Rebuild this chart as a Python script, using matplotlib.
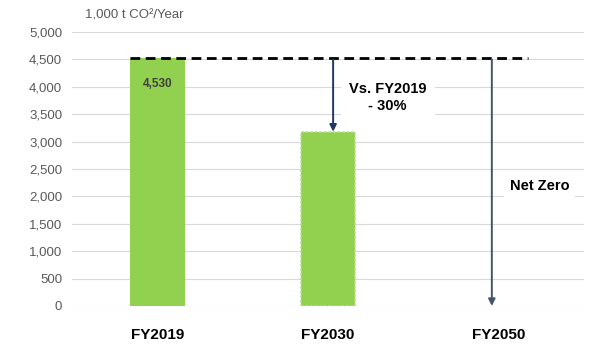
import matplotlib
matplotlib.use("Agg")
import matplotlib.pyplot as plt

plt.rcParams["font.family"] = ["Liberation Sans", "DejaVu Sans"]

# --- Data -----------------------------------------------------------
categories = ["FY2019", "FY2030", "FY2050"]
emissions = [4530, 3171, 0]
baseline = 4530
yticks = [0, 500, 1000, 1500, 2000, 2500, 3000, 3500, 4000, 4500, 5000]

GREEN = "#92d050"

fig = plt.figure(figsize=(5.99, 3.58), dpi=100)
ax = fig.add_axes([72 / 599, 52 / 358, (584 - 72) / 599, (306 - 32) / 358])

x = list(range(len(categories)))
bw = 0.32
ax.bar(x[0], emissions[0], width=bw, color=GREEN, zorder=2)
ax.bar(x[1], emissions[1], width=bw, color=GREEN, edgecolor="#b8e08a",
       linestyle=(0, (1.5, 1.2)), linewidth=1.2, zorder=2)

ax.text(x[0], emissions[0] - 470, "4,530", ha="center", va="center",
        fontsize=8.5, fontweight="bold", color="#404040", zorder=3)

# baseline dashed line
ax.plot([x[0] - bw / 2, x[2] + 0.17], [baseline, baseline], color="black",
        linestyle=(0, (3.5, 2)), linewidth=2, zorder=3)

# arrows
ax.annotate("", xy=(x[1] + 0.03, emissions[1] + 10), xytext=(x[1] + 0.03, baseline - 30),
            arrowprops=dict(arrowstyle="-|>", color="#1f3864", lw=1.4,
                            mutation_scale=10, shrinkA=0, shrinkB=0), zorder=4)
ax.annotate("", xy=(x[2] - 0.04, 0), xytext=(x[2] - 0.04, baseline - 30),
            arrowprops=dict(arrowstyle="-|>", color="#44546a", lw=1.4,
                            mutation_scale=10, shrinkA=0, shrinkB=0), zorder=4)

ax.text(1.35, 3800, "Vs. FY2019\n- 30%", ha="center", va="center",
        fontsize=10.5, fontweight="bold", color="black", linespacing=1.25,
        bbox=dict(facecolor="white", edgecolor="none", pad=6), zorder=3)
ax.text(2.24, 2190, "Net Zero", ha="center", va="center",
        fontsize=10.5, fontweight="bold", color="black",
        bbox=dict(facecolor="white", edgecolor="none", pad=4), zorder=3)

ax.set_xlim(-0.5, 2.5)
ax.set_ylim(0, 5000)
ax.set_yticks(yticks)
ax.set_yticklabels([f"{v:,}" for v in yticks])
ax.set_xticks(x)
ax.set_xticklabels(categories, fontweight="bold", fontsize=11)
ax.tick_params(axis="y", length=0, labelsize=9.5, labelcolor="#595959", pad=7)
ax.tick_params(axis="x", length=0, pad=16)
ax.grid(axis="y", color="#d9d9d9", linewidth=0.8, zorder=0)
ax.set_axisbelow(True)
for s in ax.spines.values():
    s.set_visible(False)

fig.text(85 / 599, 1 - 16 / 358, "1,000 t CO\u00b2/Year", ha="left", va="center",
         fontsize=9.5, color="#595959")

fig.savefig("out.png", dpi=100)
